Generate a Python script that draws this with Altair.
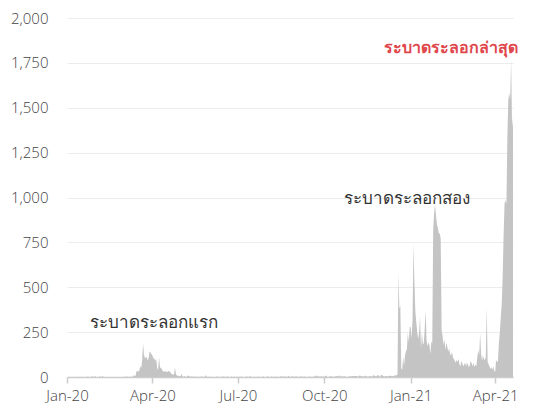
import altair as alt
import pandas as pd

# Daily new cases, Jan 1 2020 -> Apr 20 2021 (one list per month)
jan20 = [0,0,0,0,0,0,0,0,0,0,0,0,1,0,0,0,1,0,0,0,0,2,1,0,1,0,0,6,0,0,5]
feb20 = [0,0,0,0,6,0,0,7,0,0,0,0,0,0,0,0,0,0,0,0,0,0,0,0,0,0,0,0,0]
mar20 = [1,0,1,0,4,0,2,1,0,3,0,11,5,7,32,33,30,35,60,50,89,188,122,106,107,111,91,109,143,136,127]
apr20 = [120,104,103,89,102,51,38,111,54,50,45,33,28,34,30,29,28,33,32,27,19,15,13,15,53,15,9,7,7,3]
may20 = [6,18,3,1,5,2,0,4,8,7,1,2,4,0,3,3,0,1,2,0,1,3,1,3,2,0,1,11,1,0,1]
jun20 = [2,0,1,0,0,0,0,1,3,2,0,0,1,0,5,0,3,0,0,6,0,0,0,3,0,1,2,0,0,3]
jul20 = [0,1,2,0,4,0,0,0,0,3,3,0,1,6,0,0,1,0,2,0,0,3,0,1,0,0,2,3,0,0,2]
aug20 = [0,4,1,0,0,4,0,2,1,0,3,0,1,0,0,8,0,3,1,4,0,3,0,8,0,1,1,4,3,0,3]
sep20 = [3,4,0,0,2,4,2,1,1,3,0,2,0,0,4,0,1,1,0,4,1,10,2,10,3,2,2,6,1,1]
oct20 = [1,5,8,2,0,1,2,9,1,2,0,5,2,5,6,1,11,0,7,2,3,5,3,1,1,2,0,7,3,4,5]
nov20 = [4,5,6,6,6,0,7,9,4,3,6,4,2,8,4,1,2,6,4,4,2,10,9,6,3,5,12,7,0,9]
dec20 = [13,8,5,2,5,6,3,3,9,6,7,5,5,3,10,9,10,15,576,380,400,46,40,110,64,121,144,155,250,194,279]
jan21 = [279,216,315,745,527,365,305,250,212,249,339,158,249,183,188,273,369,198,171,193,178,128,198,187,820,914,959,900,850,830,800]
feb21 = [800,770,260,230,180,210,150,190,170,140,160,130,120,140,110,100,90,80,95,85,100,70,60,90,75,60,70,80]
mar21 = [60,80,70,55,65,90,75,60,80,55,70,60,110,150,120,245,130,90,120,100,95,110,390,85,70,60,45,55,40,60,35]
apr21 = [26,96,84,89,194,250,334,405,559,789,967,985,965,1335,1543,1582,1547,1767,1390,1443]

cases = (jan20 + feb20 + mar20 + apr20 + may20 + jun20 + jul20 + aug20 +
         sep20 + oct20 + nov20 + dec20 + jan21 + feb21 + mar21 + apr21)
dates = pd.date_range("2020-01-01", periods=len(cases), freq="D")
df = pd.DataFrame({"date": dates, "cases": cases})

# Annotations
wave_text = ["ระบาดระลอกแรก", "ระบาดระลอกสอง"]
wave_date = ["2020-04-03", "2020-12-28"]
wave_value = [301, 992]
latest_text = ["ระบาดระลอกล่าสุด"]
latest_date = ["2021-02-13"]
latest_value = [1833]
waves = pd.DataFrame({"text": wave_text, "date": pd.to_datetime(wave_date), "value": wave_value})
latest = pd.DataFrame({"text": latest_text, "date": pd.to_datetime(latest_date), "value": latest_value})

y_ticks = [0, 250, 500, 750, 1000, 1250, 1500, 1750, 2000]
x_ticks = [alt.DateTime(year=2020, month=m, date=1) for m in (1, 4, 7, 10)] + \
          [alt.DateTime(year=2021, month=m, date=1) for m in (1, 4)]

FONT = "Open Sans"

xscale = alt.Scale(domain=[alt.DateTime(year=2020, month=1, date=1),
                           alt.DateTime(year=2021, month=4, date=20)])
yscale = alt.Scale(domain=[0, 2000], nice=False)

area = alt.Chart(df).mark_area(color="#c4c4c4", interpolate="linear").encode(
    x=alt.X("date:T", scale=xscale, title=None,
            axis=alt.Axis(values=x_ticks, format="%b-%y", grid=False, labelFlush=False,
                          domainColor="#cccccc", domainWidth=1.5,
                          tickColor="#cccccc", tickSize=6, tickWidth=1.5,
                          labelPadding=5, labelFontSize=15, labelColor="#444444",
                          labelFont=FONT, labelFontWeight=300)),
    y=alt.Y("cases:Q", scale=yscale, title=None,
            axis=alt.Axis(values=y_ticks, format=",d", domain=False, ticks=False,
                          gridColor="#ececec", labelPadding=19, labelFontSize=15,
                          labelColor="#444444", labelFont=FONT, labelFontWeight=300)),
)

text1 = alt.Chart(waves).mark_text(align="center", baseline="middle", fontSize=17,
                                    font=FONT, color="#333333").encode(
    x=alt.X("date:T", scale=xscale),
    y=alt.Y("value:Q", scale=yscale),
    text="text:N",
)
text2 = alt.Chart(latest).mark_text(align="center", baseline="middle", fontSize=16,
                                     font=FONT, color="#e0474c", fontWeight="bold").encode(
    x=alt.X("date:T", scale=xscale),
    y=alt.Y("value:Q", scale=yscale),
    text="text:N",
)

chart = alt.layer(area, text1, text2).properties(
    width=446, height=359,
    autosize=alt.AutoSizeParams(type="none"),
    padding={"left": 59, "top": 10, "right": 31, "bottom": 27},
).configure_view(stroke=None)

chart.save("out.html", embed_options={"renderer": "svg", "actions": False})
